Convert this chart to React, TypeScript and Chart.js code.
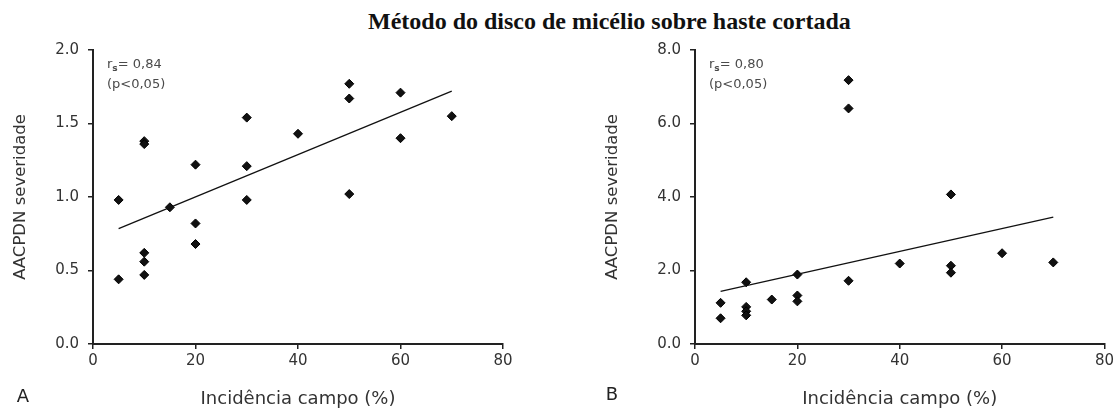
import React, { useEffect, useRef } from "react";
import { Chart, registerables } from "chart.js";

Chart.register(...registerables);

// ---------- data ----------
const incidenceA = [5, 5, 10, 10, 10, 10, 10, 15, 20, 20, 20, 30, 30, 30, 40, 50, 50, 50, 60, 60, 70];
const severityA = [0.98, 0.44, 1.38, 1.36, 0.62, 0.56, 0.47, 0.93, 1.22, 0.82, 0.68, 1.54, 1.21, 0.98, 1.43, 1.77, 1.67, 1.02, 1.71, 1.40, 1.55];
const trendAX = [5, 70];
const trendAY = [0.785, 1.72];

const incidenceB = [5, 5, 10, 10, 10, 10, 15, 20, 20, 20, 30, 30, 30, 40, 50, 50, 50, 60, 70];
const severityB = [1.12, 0.70, 1.68, 1.01, 0.89, 0.78, 1.21, 1.89, 1.32, 1.16, 7.18, 6.41, 1.72, 2.19, 4.07, 2.13, 1.94, 2.47, 2.22];
const trendBX = [5, 70];
const trendBY = [1.43, 3.45];

const xTicks = [0, 20, 40, 60, 80];
const yTicksA = [0, 0.5, 1.0, 1.5, 2.0];
const yTicksB = [0, 2, 4, 6, 8];

const mainTitle = "Método do disco de micélio sobre haste cortada";
const xTitle = "Incidência campo (%)";
const yTitle = "AACPDN severidade";
const rsA = "0,84";
const rsB = "0,80";
const pText = "(p<0,05)";

const FONT = "'DejaVu Sans', Verdana, sans-serif";

type PanelCfg = {
  xs: number[];
  ys: number[];
  tx: number[];
  ty: number[];
  yTicks: number[];
  rs: string;
  letter: string;
  letterX: number;
  letterY: number;
  yAxisWidth: number;
  yTitlePad: number;
  padRight: number;
};

function makeChart(canvas: HTMLCanvasElement, cfg: PanelCfg) {
  const annot = {
    id: "annot",
    afterDraw(chart: any) {
      const ctx = chart.ctx;
      const ca = chart.chartArea;
      ctx.save();
      ctx.fillStyle = "#4a4a4a";
      ctx.textBaseline = "middle";
      ctx.textAlign = "left";
      let x = ca.left + 14;
      const y1 = ca.top + 15;
      ctx.font = `13px ${FONT}`;
      ctx.fillText("r", x, y1);
      x += ctx.measureText("r").width;
      ctx.font = `bold 9px ${FONT}`;
      ctx.fillText("s", x, y1 + 4);
      x += ctx.measureText("s").width;
      ctx.font = `13px ${FONT}`;
      ctx.fillText("= " + cfg.rs, x, y1);
      ctx.fillText(pText, ca.left + 14, ca.top + 35);
      ctx.fillStyle = "#222";
      ctx.font = `18px ${FONT}`;
      ctx.textAlign = "center";
      ctx.fillText(cfg.letter, cfg.letterX, cfg.letterY);
      ctx.restore();
    },
  };

  const scatterData = cfg.xs.map((x, i) => ({ x, y: cfg.ys[i] }));
  const trendData = cfg.tx.map((x, i) => ({ x, y: cfg.ty[i] }));
  const yMax = cfg.yTicks[cfg.yTicks.length - 1];

  return new Chart(canvas, {
    type: "scatter",
    data: {
      datasets: [
        {
          type: "line",
          data: trendData,
          borderColor: "#111",
          borderWidth: 1.3,
          pointRadius: 0,
          fill: false,
          showLine: true,
        } as any,
        {
          data: scatterData,
          pointStyle: "rectRot",
          pointRadius: 4.5,
          backgroundColor: "#111",
          borderColor: "#000",
          borderWidth: 1,
        },
      ],
    },
    options: {
      animation: false,
      responsive: false,
      devicePixelRatio: 1,
      events: [],
      layout: { padding: { top: 50, right: cfg.padRight, left: 0, bottom: 0 } },
      plugins: {
        legend: { display: false },
        tooltip: { enabled: false },
        title: { display: false },
      },
      scales: {
        x: {
          type: "linear",
          min: 0,
          max: 80,
          afterBuildTicks: (s: any) => {
            s.ticks = xTicks.map((v) => ({ value: v }));
          },
          afterFit: (s: any) => {
            s.height = 65;
          },
          ticks: {
            color: "#333",
            font: { family: FONT, size: 15 },
            padding: 3,
            callback: (v: any) => String(v),
          },
          grid: {
            display: true,
            drawOnChartArea: false,
            drawTicks: true,
            tickLength: 5,
            color: "#222",
            lineWidth: 1.5,
          },
          border: { display: true, color: "#222", width: 2 },
          title: {
            display: true,
            text: xTitle,
            color: "#333",
            font: { family: FONT, size: 18 },
            padding: { top: 0, bottom: -1 },
          },
        },
        y: {
          type: "linear",
          min: 0,
          max: yMax,
          afterBuildTicks: (s: any) => {
            s.ticks = cfg.yTicks.map((v) => ({ value: v }));
          },
          afterFit: (s: any) => {
            s.width = cfg.yAxisWidth;
          },
          ticks: {
            color: "#333",
            font: { family: FONT, size: 15 },
            padding: 9,
            callback: (v: any) => Number(v).toFixed(1),
          },
          grid: {
            display: true,
            drawOnChartArea: false,
            drawTicks: true,
            tickLength: 5,
            color: "#222",
            lineWidth: 1.5,
          },
          border: { display: true, color: "#222", width: 2 },
          title: {
            display: true,
            text: yTitle,
            color: "#333",
            font: { family: FONT, size: 16.5 },
            padding: { top: cfg.yTitlePad, bottom: 0 },
          },
        },
      },
    },
    plugins: [annot],
  } as any);
}

export default function App() {
  const refA = useRef<HTMLCanvasElement>(null);
  const refB = useRef<HTMLCanvasElement>(null);

  useEffect(() => {
    const a = makeChart(refA.current!, {
      xs: incidenceA,
      ys: severityA,
      tx: trendAX,
      ty: trendAY,
      yTicks: yTicksA,
      rs: rsA,
      letter: "A",
      letterX: 23,
      letterY: 397,
      yAxisWidth: 93,
      yTitlePad: 11,
      padRight: 55,
    });
    const b = makeChart(refB.current!, {
      xs: incidenceB,
      ys: severityB,
      tx: trendBX,
      ty: trendBY,
      yTicks: yTicksB,
      rs: rsB,
      letter: "B",
      letterX: 54,
      letterY: 395,
      yAxisWidth: 137,
      yTitlePad: 45,
      padRight: 12,
    });
    return () => {
      a.destroy();
      b.destroy();
    };
  }, []);

  return (
    <div
      style={{
        position: "absolute",
        left: 0,
        top: 0,
        width: 1117,
        height: 409,
        background: "#fff",
        overflow: "hidden",
      }}
    >
      <div
        style={{
          position: "absolute",
          left: 368,
          top: 9,
          whiteSpace: "nowrap",
          fontFamily: "'Liberation Serif', 'Times New Roman', serif",
          fontWeight: "bold",
          fontSize: 24,
          lineHeight: "24px",
          color: "#111",
        }}
      >
        {mainTitle}
      </div>
      <canvas
        ref={refA}
        width={558}
        height={409}
        style={{ position: "absolute", left: 0, top: 0, width: 558, height: 409 }}
      />
      <canvas
        ref={refB}
        width={559}
        height={409}
        style={{ position: "absolute", left: 558, top: 0, width: 559, height: 409 }}
      />
    </div>
  );
}
